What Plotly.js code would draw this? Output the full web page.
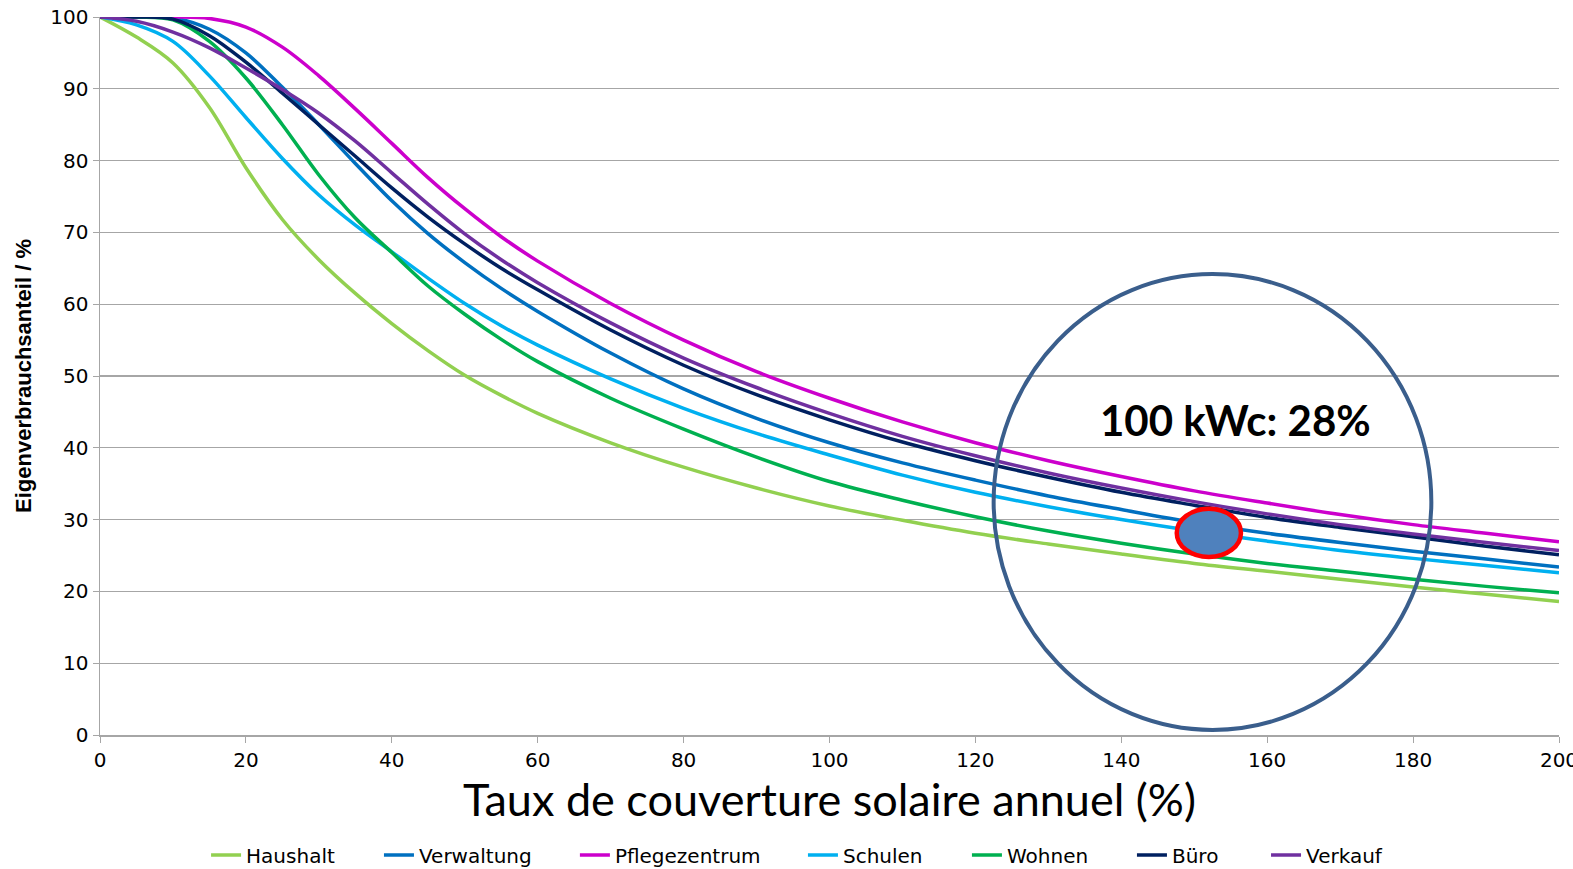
<!DOCTYPE html>
<html>
<head>
<meta charset="utf-8">
<script src="https://cdn.plot.ly/plotly-3.0.1.min.js"></script>
<style>html,body{margin:0;padding:0;background:#fff;overflow:hidden;}#chart{width:1573px;height:869px;}</style>
</head>
<body>
<div id="chart"></div>
<script>
// Taux de couverture solaire annuel (%)
const xVals = [0, 5, 10, 15, 20, 25, 30, 35, 40, 45, 50, 55, 60, 70, 80, 90, 100, 110, 120, 130, 140, 150, 160, 170, 180, 190, 200];

const haushalt      = [100, 97.2, 93.6, 87.4, 79.0, 71.8, 66.2, 61.5, 57.3, 53.5, 50.1, 47.3, 44.8, 40.7, 37.3, 34.4, 31.9, 29.9, 28.1, 26.6, 25.2, 23.9, 22.8, 21.7, 20.6, 19.6, 18.6];
const verwaltung    = [100, 100, 99.9, 98.3, 95.0, 90.2, 85.0, 79.6, 74.4, 69.8, 65.8, 62.2, 59.0, 53.2, 48.2, 44.1, 40.7, 37.9, 35.5, 33.3, 31.4, 29.6, 28.1, 26.8, 25.6, 24.5, 23.4];
const pflegezentrum = [100, 100, 100, 99.8, 98.6, 95.8, 91.8, 87.2, 82.4, 77.6, 73.3, 69.4, 66.0, 60.1, 55.0, 50.6, 46.9, 43.6, 40.7, 38.2, 36.0, 34.0, 32.3, 30.7, 29.3, 28.1, 26.9];
const schulen       = [100, 98.9, 96.6, 91.8, 86.0, 80.3, 75.2, 71.0, 67.3, 63.6, 60.1, 57.0, 54.3, 49.6, 45.5, 42.0, 39.0, 36.2, 33.8, 31.8, 30.0, 28.4, 27.0, 25.7, 24.6, 23.6, 22.6];
const wohnen        = [100, 100, 99.6, 96.6, 91.5, 85.0, 78.0, 72.0, 67.2, 62.5, 58.6, 55.1, 52.0, 46.9, 42.6, 38.7, 35.3, 32.7, 30.4, 28.4, 26.7, 25.2, 23.9, 22.8, 21.7, 20.7, 19.8];
const buero         = [100, 100, 99.7, 97.4, 93.7, 89.4, 85.0, 80.6, 76.2, 72.1, 68.4, 65.0, 62.0, 56.4, 51.5, 47.4, 43.9, 40.8, 38.2, 35.9, 33.8, 32.0, 30.3, 28.9, 27.6, 26.3, 25.1];
const verkauf       = [100, 99.4, 97.9, 95.7, 92.9, 89.9, 86.6, 82.7, 78.3, 73.9, 69.8, 66.2, 63.0, 57.4, 52.5, 48.4, 44.8, 41.6, 38.9, 36.5, 34.4, 32.5, 30.8, 29.3, 28.0, 26.8, 25.7];

const seriesNames  = ["Haushalt", "Verwaltung", "Pflegezentrum", "Schulen", "Wohnen", "Büro", "Verkauf"];
const seriesData   = [haushalt, verwaltung, pflegezentrum, schulen, wohnen, buero, verkauf];
const seriesColors = ["#92D050", "#0070C0", "#CC00CC", "#00B0F0", "#00B050", "#002060", "#7030A0"];

const xTicks = [0, 20, 40, 60, 80, 100, 120, 140, 160, 180, 200];
const yTicks = [0, 10, 20, 30, 40, 50, 60, 70, 80, 90, 100];

// highlighted zone
const circleX = [122.5, 182.5];
const circleY = [0.7, 64.2];
const pointX  = [147.6, 156.4];
const pointY  = [24.8, 31.5];
const labelText = "100 kWc: 28%";
const labelPos  = [155.7, 43.9];

// legend entry left edges (paper fraction of plot width)
const legendX = [0.0727, 0.1912, 0.3255, 0.4818, 0.5942, 0.7073, 0.7992];

const legendIds = ["legend", "legend2", "legend3", "legend4", "legend5", "legend6", "legend7"];

const traces = seriesNames.map((n, i) => ({
  type: "scatter",
  mode: "lines",
  name: n,
  x: xVals,
  y: seriesData[i],
  legend: legendIds[i],
  line: {color: seriesColors[i], width: 3.5, shape: "spline", smoothing: 1.0}
}));

const legendFont = {size: 20, family: "DejaVu Sans, sans-serif", color: "#000"};

const layout = {
  width: 1573,
  height: 869,
  margin: {l: 100, r: 14, t: 17, b: 134, autoexpand: false},
  paper_bgcolor: "#ffffff",
  plot_bgcolor: "#ffffff",
  font: {family: "DejaVu Sans, sans-serif", color: "#000"},
  showlegend: true,
  xaxis: {
    range: [0, 200],
    tickvals: xTicks,
    ticktext: xTicks.map(String),
    showgrid: false,
    zeroline: false,
    showline: true,
    linecolor: "#A6A6A6",
    linewidth: 1.5,
    ticks: "outside",
    ticklen: 6,
    tickcolor: "#A6A6A6",
    ticklabeloverflow: "allow",
    tickfont: {size: 20, family: "DejaVu Sans, sans-serif", color: "#000"},
    automargin: false,
    title: {text: "Taux de couverture solaire annuel (%)", font: {size: 45, family: "Lato, Carlito, Calibri, sans-serif", color: "#000"}, standoff: 14}
  },
  yaxis: {
    range: [0, 100],
    tickvals: yTicks,
    ticktext: yTicks.map(String),
    showgrid: true,
    gridcolor: "#A6A6A6",
    gridwidth: 1.3,
    zeroline: false,
    showline: true,
    linecolor: "#A6A6A6",
    linewidth: 1.5,
    ticks: "outside",
    ticklen: 6,
    tickcolor: "#A6A6A6",
    tickfont: {size: 20, family: "DejaVu Sans, sans-serif", color: "#000"},
    automargin: false,
    title: {text: "<b>Eigenverbrauchsanteil / %</b>", font: {size: 22, family: "Liberation Sans, Arial, sans-serif", color: "#000"}, standoff: 12}
  },
  shapes: [
    {type: "circle", xref: "x", yref: "y", x0: circleX[0], x1: circleX[1], y0: circleY[0], y1: circleY[1],
     line: {color: "#3A5E8C", width: 4}, fillcolor: "rgba(0,0,0,0)", layer: "above"},
    {type: "circle", xref: "x", yref: "y", x0: pointX[0], x1: pointX[1], y0: pointY[0], y1: pointY[1],
     line: {color: "#FF0000", width: 4.5}, fillcolor: "#4F81BD", layer: "above"}
  ],
  annotations: [
    {x: labelPos[0], y: labelPos[1], xref: "x", yref: "y", text: "<b>" + labelText + "</b>", showarrow: false,
     font: {size: 42, family: "Lato, Carlito, Calibri, sans-serif", color: "#000"}}
  ]
};

legendIds.forEach((id, i) => {
  layout[id] = {
    orientation: "h",
    x: legendX[i], xanchor: "left",
    y: -0.1670, yanchor: "middle",
    font: legendFont,
    bgcolor: "rgba(0,0,0,0)",
    borderwidth: 0
  };
});

Plotly.newPlot("chart", traces, layout, {displayModeBar: false, staticPlot: true});
</script>
</body>
</html>
